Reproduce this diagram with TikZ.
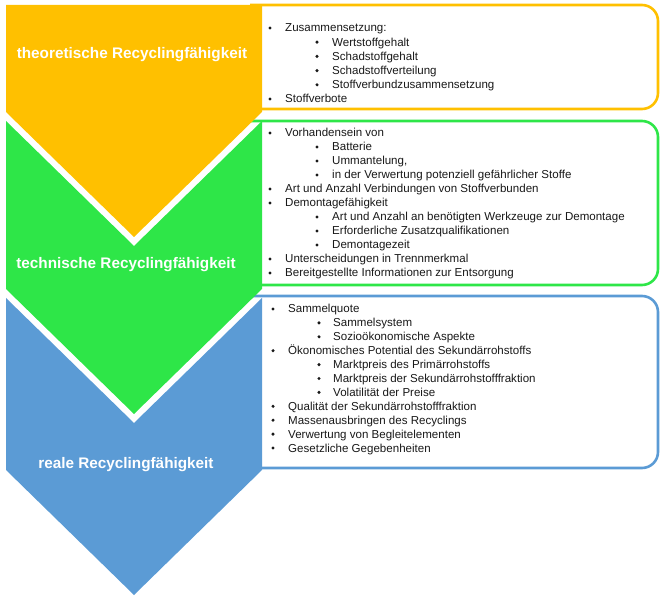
\documentclass[tikz,border=0pt]{standalone}
\usepackage{fontspec}
\setmainfont{Liberation Sans}
\usepackage{tikz}

\definecolor{stagegold}{RGB}{255,192,0}
\definecolor{stagegreen}{RGB}{46,230,72}
\definecolor{stageblue}{RGB}{91,155,213}

\begin{document}
\begin{tikzpicture}[x=1pt,y=-1pt,
    stagetext/.style={text=white,inner sep=0pt,font=\fontsize{15.3}{18}\selectfont\bfseries},
    listline/.style={anchor=base west,inner sep=0pt,text=black!90,font=\fontsize{11.55}{13}\selectfont},
    listbox/.style={line width=2.6pt,fill=white,rounded corners=16pt}]
    \useasboundingbox (0,0) rectangle (662,596);

    % Boxes on the right, open to the left
    \filldraw[listbox,draw=stagegold] (250,5) -- (658,5) -- (658,109) -- (250,109);
    \filldraw[listbox,draw=stagegreen] (250,121) -- (658,121) -- (658,285) -- (250,285);
    \filldraw[listbox,draw=stageblue] (250,296) -- (658,296) -- (658,468) -- (250,468);

    % Chevrons
    \fill[stagegold] (6,5) -- (262,5) -- (262,112) -- (134,237) -- (6,112) -- cycle;
    \fill[stagegreen] (6,121) -- (134,246) -- (262,121) -- (262,289) -- (134,414) -- (6,289) -- cycle;
    \fill[stageblue] (6,298) -- (134,423) -- (262,298) -- (262,470) -- (134,595) -- (6,470) -- cycle;

    \node[stagetext] (theo) at (132,55) {theoretische Recyclingfähigkeit};
    \node[stagetext] (tech) at (126,265) {technische Recyclingfähigkeit};
    \node[stagetext] (real) at (126,465) {reale Recyclingfähigkeit};

    % Criteria lists
    \foreach [count=\i] \lvl/\txt in {1/Zusammensetzung:, 2/Wertstoffgehalt,
        2/Schadstoffgehalt, 2/Schadstoffverteilung, 2/Stoffverbundzusammensetzung,
        1/Stoffverbote} {
      \node[listline] (theo\i) at (238+47*\lvl,17.8+14.2*\i) {\txt};
      \fill[black!90] (223+47*\lvl,13.8+14.2*\i) circle (1.7);
    }
    \foreach [count=\i] \lvl/\txt in {1/Vorhandensein von, 2/Batterie, 2/{Ummantelung,},
        2/in der Verwertung potenziell gefährlicher Stoffe,
        1/Art und Anzahl Verbindungen von Stoffverbunden, 1/Demontagefähigkeit,
        2/Art und Anzahl an benötigten Werkzeuge zur Demontage,
        2/Erforderliche Zusatzqualifikationen, 2/Demontagezeit,
        1/Unterscheidungen in Trennmerkmal,
        1/Bereitgestellte Informationen zur Entsorgung} {
      \node[listline] (tech\i) at (238+47*\lvl,123+14*\i) {\txt};
      \fill[black!90] (223+47*\lvl,119+14*\i) circle (1.7);
    }
    \foreach [count=\i] \lvl/\txt in {1/Sammelquote, 2/Sammelsystem,
        2/Sozioökonomische Aspekte, 1/Ökonomisches Potential des Sekundärrohstoffs,
        2/Marktpreis des Primärrohstoffs, 2/Marktpreis der Sekundärrohstofffraktion,
        2/Volatilität der Preise, 1/Qualität der Sekundärrohstofffraktion,
        1/Massenausbringen des Recyclings, 1/Verwertung von Begleitelementen,
        1/Gesetzliche Gegebenheiten} {
      \node[listline] (real\i) at (243+45*\lvl,299.1+13.9*\i) {\txt};
      \fill[black!90] (227+46*\lvl,295.1+13.9*\i) circle (1.7);
    }
\end{tikzpicture}
\end{document}
